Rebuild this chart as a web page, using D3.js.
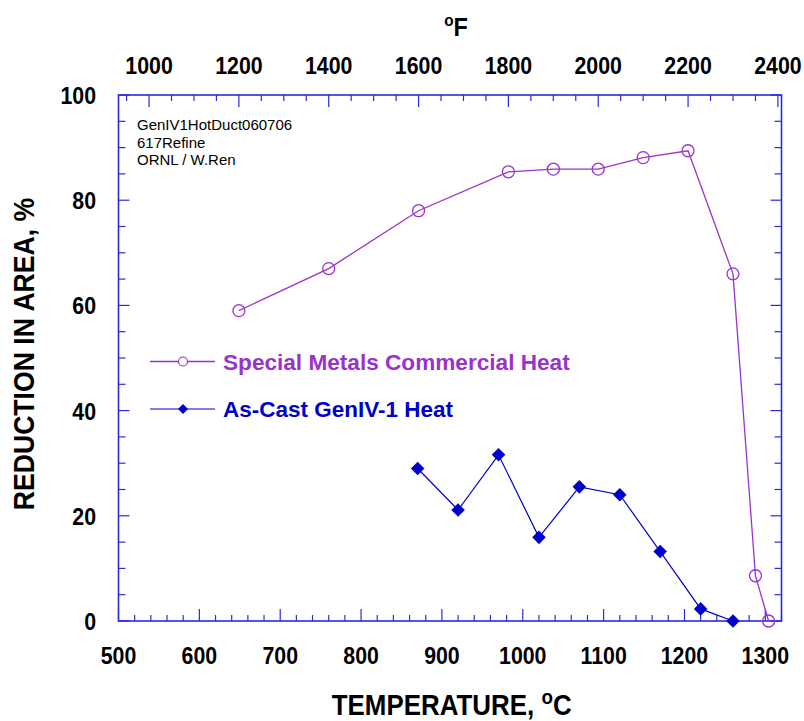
<!DOCTYPE html>
<html><head><meta charset="utf-8">
<script src="https://cdn.jsdelivr.net/npm/d3@7"></script>
<style>
body{margin:0;background:#fff;}
svg{display:block;font-family:"Liberation Sans",Arial,sans-serif;}
</style></head>
<body>
<svg id="chart" width="804" height="721"></svg>
<script>
// ---- data ----
const smTempC = [648.9, 760, 871.1, 982.2, 1037.8, 1093.3, 1148.9, 1204.4, 1260, 1287.8, 1304];
const smRA    = [59.0, 67.0, 78.0, 85.4, 85.9, 85.9, 88.1, 89.4, 66.0, 8.6, 0];
const acTempC = [870, 920, 970, 1020, 1070, 1120, 1170, 1220, 1260];
const acRA    = [29.0, 21.1, 31.6, 15.9, 25.5, 24.0, 13.2, 2.3, 0];
const xTicksC = [500, 600, 700, 800, 900, 1000, 1100, 1200, 1300];
const yTicks  = [0, 20, 40, 60, 80, 100];
const topTicksF = [1000, 1200, 1400, 1600, 1800, 2000, 2200, 2400];
const seriesNames = ["Special Metals Commercial Heat", "As-Cast GenIV-1 Heat"];
const notes = ["GenIV1HotDuct060706", "617Refine", "ORNL / W.Ren"];

const svg = d3.select("#chart");
const L = 118.5, R = 781.5, T = 95, B = 621;
const x = d3.scaleLinear().domain([500, 1320]).range([L, R]);
const y = d3.scaleLinear().domain([0, 100]).range([B, T]);
const xF = d3.scaleLinear().domain([500*9/5+32, 1320*9/5+32]).range([L, R]);

const axisCol = "#2b2bdc";
const purple = "#9933cc", blue = "#0000cc";

// frame
svg.append("rect").attr("x", L).attr("y", T).attr("width", R-L).attr("height", B-T)
  .attr("fill", "none").attr("stroke", axisCol).attr("stroke-width", 1.6);

const tg = svg.append("g").attr("stroke", axisCol).attr("stroke-width", 1.2);
d3.range(500, 1321, 20).forEach(v => {
  const major = v % 100 === 0;
  tg.append("line").attr("x1", x(v)).attr("x2", x(v)).attr("y1", B).attr("y2", B - (major ? 12 : 6));
});
d3.range(950, 2411, 50).forEach(v => {
  const major = v % 200 === 0;
  const px = xF(v);
  if (px < L || px > R) return;
  tg.append("line").attr("x1", px).attr("x2", px).attr("y1", T).attr("y2", T + (major ? 12 : 6));
});
d3.range(0, 101, 5).forEach(v => {
  const major = v % 20 === 0;
  const len = major ? 11 : 7;
  tg.append("line").attr("x1", L).attr("x2", L + len).attr("y1", y(v)).attr("y2", y(v));
  tg.append("line").attr("x1", R).attr("x2", R - len).attr("y1", y(v)).attr("y2", y(v));
});

// tick labels (slightly tall, narrow glyphs)
const lab = svg.append("g").attr("font-weight", "bold").attr("font-size", 22).attr("fill", "#000");
function tl(px, py, s, anchor) {
  lab.append("g").attr("transform", `translate(${px},${py}) scale(0.97,1.05)`)
    .append("text").attr("text-anchor", anchor).text(s);
}
xTicksC.forEach(v => tl(x(v), 664, v, "middle"));
topTicksF.forEach(v => tl(xF(v), 74, v, "middle"));
yTicks.forEach(v => tl(96, y(v) + 9, v, "end"));

function fit(t, w) { return w / t.node().getBBox().width; }

// x title
{
  const g = svg.append("g");
  const t = g.append("text").attr("font-weight", "bold").attr("font-size", 29).attr("text-anchor", "middle");
  t.append("tspan").text("TEMPERATURE, ");
  t.append("tspan").attr("font-size", 21).attr("dy", -11).text("o");
  t.append("tspan").attr("dy", 11).text("C");
  const k = fit(t, 240);
  g.attr("transform", `translate(451.7,715) scale(${k},1)`);
}
// top title
{
  const g = svg.append("g");
  const t = g.append("text").attr("font-weight", "bold").attr("font-size", 26).attr("text-anchor", "middle");
  t.append("tspan").attr("font-size", 17).attr("dy", -10).text("o");
  t.append("tspan").attr("dy", 10).text("F");
  g.attr("transform", `translate(456,36) scale(0.9,1)`);
}
// y title
{
  const g = svg.append("g");
  const t = g.append("text").attr("font-weight", "bold").attr("font-size", 29).attr("text-anchor", "middle")
    .text("REDUCTION IN AREA, %");
  const k = fit(t, 313);
  g.attr("transform", `translate(34,354) rotate(-90) scale(${k},1)`);
}

// notes
notes.forEach((s, i) => svg.append("text").attr("x", 137).attr("y", 130 + i * 17.7)
  .attr("font-size", 15).attr("fill", "#000").text(s));

// series lines
const line = d3.line().x(d => x(d[0])).y(d => y(d[1]));
const sm = smTempC.map((t, i) => [t, smRA[i]]);
const ac = acTempC.map((t, i) => [t, acRA[i]]);
svg.append("path").attr("d", line(sm)).attr("fill", "none").attr("stroke", purple).attr("stroke-width", 1.3);
svg.append("path").attr("d", line(ac)).attr("fill", "none").attr("stroke", blue).attr("stroke-width", 1.2);

svg.selectAll(".sm").data(sm).join("circle")
  .attr("cx", d => x(d[0])).attr("cy", d => y(d[1])).attr("r", 6)
  .attr("fill", "none").attr("stroke", purple).attr("stroke-width", 1.3);
svg.selectAll(".ac").data(ac).join("path")
  .attr("d", d3.symbol().type(d3.symbolSquare).size(92)())
  .attr("transform", d => `translate(${x(d[0])},${y(d[1])}) rotate(45)`)
  .attr("fill", blue);

// legend
const lg = svg.append("g");
lg.append("line").attr("x1", 150).attr("x2", 215).attr("y1", 361.5).attr("y2", 361.5).attr("stroke", purple).attr("stroke-width", 1.3);
lg.append("circle").attr("cx", 183).attr("cy", 361.5).attr("r", 4.5).attr("fill", "#fff").attr("stroke", purple).attr("stroke-width", 1.2);
lg.append("line").attr("x1", 150).attr("x2", 215).attr("y1", 409).attr("y2", 409).attr("stroke", blue).attr("stroke-width", 1.2);
lg.append("path").attr("d", d3.symbol().type(d3.symbolSquare).size(50)())
  .attr("transform", "translate(183,409) rotate(45)").attr("fill", blue);
[[seriesNames[0], purple, 369.5, 347], [seriesNames[1], blue, 416.5, 230]].forEach(([s, c, yy, w]) => {
  const g = lg.append("g");
  const t = g.append("text").attr("font-weight", "bold").attr("font-size", 21.5).attr("fill", c).text(s);
  const k = fit(t, w);
  g.attr("transform", `translate(223,${yy}) scale(${k},1)`);
});
</script>
</body></html>
